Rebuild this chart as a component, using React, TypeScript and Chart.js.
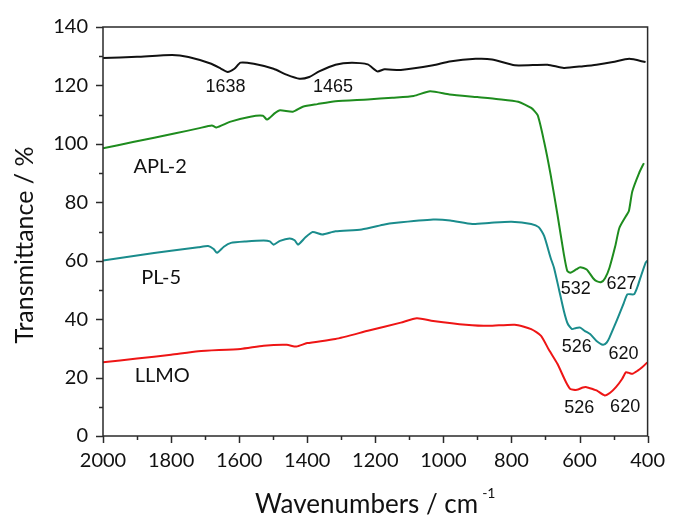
import React, { useEffect, useRef } from "react";
import { Chart, registerables } from "chart.js";

Chart.register(...registerables);

// ---- data (wavenumber in cm-1, transmittance in %) ----
const topWN = [2000, 1900, 1797, 1749, 1682, 1653, 1634, 1614, 1596, 1557, 1499, 1461, 1423, 1394, 1365, 1317, 1269, 1222, 1194, 1173, 1125, 1030, 982, 905, 857, 790, 694, 646, 589, 550, 502, 454, 406];
const topT = [129.4, 129.8, 130.4, 129.7, 127.4, 125.7, 124.6, 125.7, 127.8, 127.4, 125.7, 123.7, 122.3, 122.9, 124.8, 127.1, 127.8, 127.2, 124.8, 125.5, 125.3, 126.9, 128.2, 129.1, 128.9, 126.9, 127.1, 126.0, 126.6, 127.1, 128.0, 129.1, 128.0];

const aplWN = [2000, 1912, 1787, 1720, 1680, 1667, 1625, 1567, 1530, 1518, 1495, 1480, 1442, 1413, 1370, 1317, 1222, 1150, 1087, 1039, 982, 900, 838, 780, 742, 723, 704, 685, 665, 646, 636, 627, 610, 598, 579, 560, 550, 536, 525, 512, 495, 483, 464, 455, 445, 425, 411];
const aplT = [98.5, 100.6, 103.6, 105.3, 106.3, 105.6, 107.6, 109.3, 109.6, 108.3, 110.5, 111.5, 111.0, 112.7, 113.6, 114.6, 115.2, 115.8, 116.4, 118.0, 116.9, 116.0, 115.3, 114.4, 112.3, 109.8, 100.7, 89.5, 75.9, 62.2, 56.5, 55.9, 57.0, 57.8, 57.0, 54.0, 53.0, 52.7, 54.0, 57.6, 65.0, 71.2, 75.2, 77.0, 83.7, 90.0, 93.4];

const plWN = [2000, 1900, 1800, 1720, 1691, 1675, 1665, 1645, 1624, 1580, 1528, 1510, 1499, 1480, 1452, 1437, 1427, 1405, 1384, 1356, 1317, 1240, 1173, 1145, 1030, 980, 915, 860, 800, 742, 720, 704, 685, 675, 660, 646, 635, 622, 610, 598, 585, 569, 550, 531, 520, 512, 498, 483, 470, 459, 440, 430, 421, 406, 401];
const plT = [60.1, 61.8, 63.4, 64.6, 65.0, 64.0, 62.7, 64.8, 66.1, 66.6, 66.9, 66.6, 65.5, 66.8, 67.6, 67.0, 65.5, 68.0, 69.8, 69.0, 70.1, 70.7, 72.4, 72.9, 74.1, 73.8, 72.6, 73.0, 73.3, 72.6, 71.5, 68.5, 61.0, 57.6, 50.0, 42.8, 38.5, 36.6, 37.0, 37.1, 36.0, 34.9, 32.5, 31.2, 32.0, 33.7, 37.5, 41.7, 45.5, 48.5, 48.5, 51.0, 54.2, 59.3, 60.0];

const llmoWN = [2000, 1900, 1800, 1720, 1596, 1528, 1460, 1432, 1400, 1317, 1222, 1125, 1078, 1030, 934, 867, 790, 742, 713, 690, 665, 640, 627, 608, 590, 579, 560, 550, 526, 510, 493, 475, 464, 455, 445, 430, 416, 401];
const llmoT = [25.2, 26.5, 27.8, 29.0, 29.8, 30.9, 31.2, 30.6, 31.8, 33.2, 36.0, 38.8, 40.3, 39.4, 38.1, 37.7, 38.1, 36.6, 34.3, 29.5, 24.7, 18.5, 16.1, 15.8, 16.6, 16.7, 16.0, 15.6, 13.9, 14.8, 16.7, 19.5, 21.8, 21.6, 21.3, 22.3, 23.5, 25.2];

// series labels: text, anchor wavenumber, anchor transmittance
const seriesLabelText = ["APL-2", "PL-5", "LLMO"];
const seriesLabelWN = [1832, 1829, 1826];
const seriesLabelT = [92.2, 54.1, 20.6];

// peak annotations
const peakText = ["1638", "1465", "532", "627", "526", "620", "526", "620"];
const peakWN = [1640, 1324, 611, 477, 608, 471, 601, 466];
const peakT = [119.5, 119.5, 50.2, 51.9, 30.4, 28.0, 9.6, 9.9];

const xMin = 400;
const xMax = 2000;
const yMin = 0;
const yMax = 140;

const toPts = (xs: number[], ys: number[]) => xs.map((x, i) => ({ x, y: ys[i] }));

const decorPlugin = {
  id: "decor",
  afterDraw(chart: any) {
    const { ctx, chartArea, scales } = chart;
    const { left, right, top, bottom } = chartArea;
    const xs = scales.x;
    const ys = scales.y;
    ctx.save();
    // frame
    ctx.strokeStyle = "#2a2a2a";
    ctx.lineWidth = 1.5;
    ctx.strokeRect(left, top, right - left, bottom - top);
    // ticks
    ctx.lineWidth = 1.5;
    for (let v = yMin; v <= yMax; v += 10) {
      const py = Math.round(ys.getPixelForValue(v)) + 0.5;
      const len = v % 20 === 0 ? 7 : 4;
      ctx.beginPath();
      ctx.moveTo(left, py);
      ctx.lineTo(left - len, py);
      ctx.stroke();
    }
    for (let w = xMin; w <= xMax; w += 100) {
      const px = Math.round(xs.getPixelForValue(w)) + 0.5;
      const len = w % 200 === 0 ? 7 : 4;
      ctx.beginPath();
      ctx.moveTo(px, bottom);
      ctx.lineTo(px, bottom + len);
      ctx.stroke();
    }
    // series labels
    ctx.fillStyle = "#111111";
    ctx.textAlign = "center";
    ctx.textBaseline = "middle";
    ctx.font = "20px Lato";
    seriesLabelText.forEach((t, i) => {
      ctx.fillText(t, xs.getPixelForValue(seriesLabelWN[i]), ys.getPixelForValue(seriesLabelT[i]));
    });
    // peak labels
    ctx.font = "18px 'Liberation Sans'";
    peakText.forEach((t, i) => {
      ctx.fillText(t, xs.getPixelForValue(peakWN[i]), ys.getPixelForValue(peakT[i]));
    });
    // y title
    ctx.save();
    ctx.translate(25, 245);
    ctx.rotate(-Math.PI / 2);
    ctx.font = "25px Lato";
    ctx.textAlign = "center";
    ctx.textBaseline = "middle";
    ctx.fillText("Transmittance / %", 0, 0);
    ctx.restore();
    // x title with superscript
    const main = "Wavenumbers / cm";
    const sup = "-1";
    ctx.font = "26px Lato";
    const wMain = ctx.measureText(main).width;
    ctx.font = "14px Lato";
    const wSup = ctx.measureText(sup).width;
    const total = wMain + 4 + wSup;
    const cx = (left + right) / 2;
    const x0 = cx - total / 2;
    ctx.textAlign = "left";
    ctx.textBaseline = "alphabetic";
    ctx.font = "26px Lato";
    ctx.fillText(main, x0, 513);
    ctx.font = "14px Lato";
    ctx.fillText(sup, x0 + wMain + 4, 498);
    ctx.restore();
  },
};

export default function App() {
  const ref = useRef<HTMLCanvasElement>(null);
  useEffect(() => {
    document.body.style.margin = "0";
    const canvas = ref.current!;
    const mk = (data: any[], color: string) => ({
      data,
      borderColor: color,
      backgroundColor: color,
      borderWidth: 2,
      pointRadius: 0,
      tension: 0.2,
      fill: false,
    });
    const chart = new Chart(canvas, {
      type: "line",
      data: {
        datasets: [
          mk(toPts(topWN, topT), "#111111"),
          mk(toPts(aplWN, aplT), "#1e8c1e"),
          mk(toPts(plWN, plT), "#1a8c8c"),
          mk(toPts(llmoWN, llmoT), "#ee1515"),
        ],
      },
      options: {
        animation: false,
        responsive: false,
        devicePixelRatio: 1,
        layout: { padding: { top: 24, right: 19, left: 0, bottom: 0 } },
        plugins: { legend: { display: false }, tooltip: { enabled: false } },
        scales: {
          x: {
            type: "linear",
            reverse: true,
            min: xMin,
            max: xMax,
            grid: { display: false, drawTicks: false },
            border: { display: false },
            ticks: {
              stepSize: 200,
              padding: 13,
              color: "#111111",
              font: { family: "Lato", size: 20 },
              maxRotation: 0,
              autoSkip: false,
              callback: (v: any) => String(v),
            },
            afterFit: (s: any) => {
              s.height = 82;
            },
          },
          y: {
            min: yMin,
            max: yMax,
            grid: { display: false, drawTicks: false },
            border: { display: false },
            ticks: {
              stepSize: 20,
              padding: 15,
              color: "#111111",
              font: { family: "Lato", size: 20 },
              callback: (v: any) => String(v),
            },
            afterFit: (s: any) => {
              s.width = 103;
            },
          },
        },
      },
      plugins: [decorPlugin],
    });
    return () => chart.destroy();
  }, []);
  return (
    <div style={{ width: 678, height: 518 }}>
      <canvas ref={ref} width={678} height={518} style={{ display: "block" }} />
    </div>
  );
}
